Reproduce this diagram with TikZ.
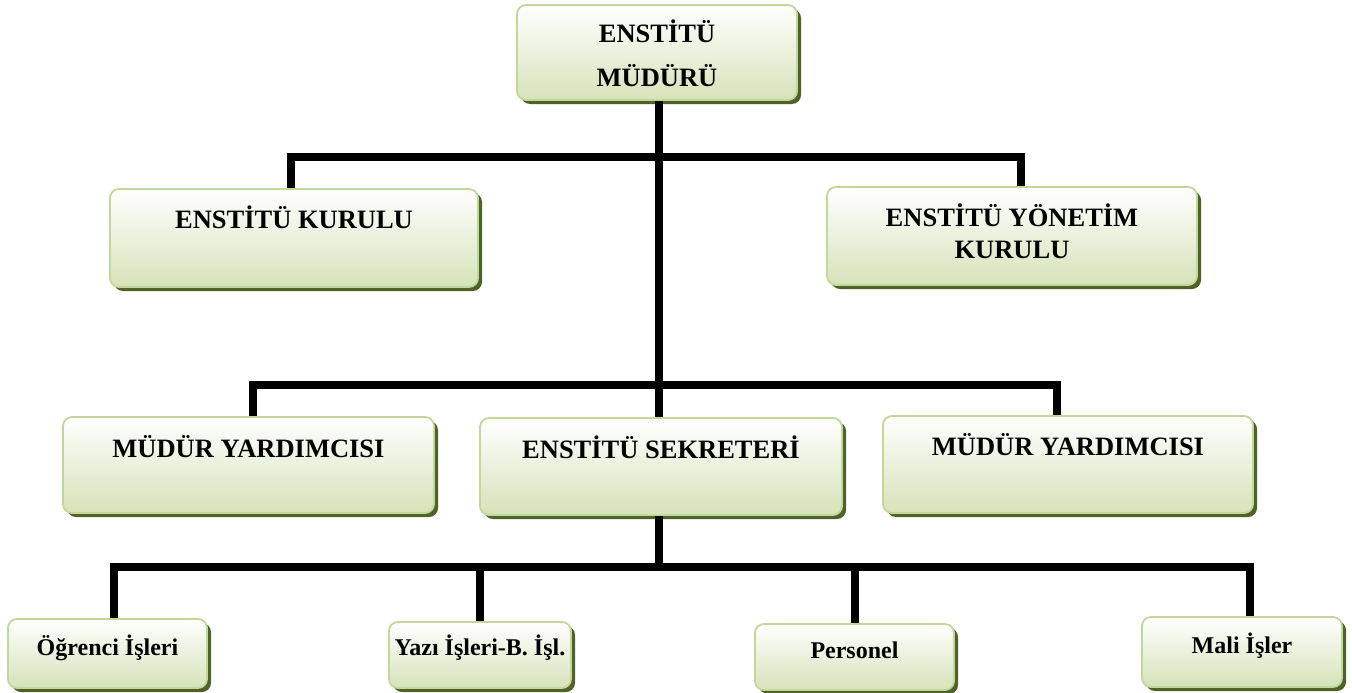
\documentclass[tikz,border=0pt]{standalone}
\usepackage{fontspec}
\setmainfont{Liberation Serif}
\usetikzlibrary{shadows}
\definecolor{boxline}{HTML}{C3D69B}
\definecolor{boxfill}{HTML}{D5E3B9}
\definecolor{shadowc}{HTML}{4F6228}
\tikzset{
  box/.style={draw=boxline, line width=1.8pt, rounded corners=9pt, inner sep=0pt,
    top color=white, bottom color=boxfill,
    drop shadow={shadow xshift=4pt, shadow yshift=-4pt, fill=shadowc, opacity=1}},
  lbl/.style={anchor=base, inner sep=0pt, font=\bfseries\fontsize{26.5}{30}\selectfont},
  slbl/.style={anchor=base, inner sep=0pt, font=\bfseries\fontsize{24}{28}\selectfont},
  conn/.style={line width=8pt, black, line join=miter}
}
\begin{document}
\begin{tikzpicture}[x=1pt,y=-1pt]
\useasboundingbox (0,0) rectangle (1352,693);
% connector junctions
\coordinate (h1) at (659,157);
\coordinate (h1l) at (291,157);
\coordinate (h1r) at (1021,157);
\coordinate (h2l) at (253,385);
\coordinate (h2r) at (1057,385);
\coordinate (h3) at (659,567);
\coordinate (b1) at (114,567);
\coordinate (b2) at (480,567);
\coordinate (b3) at (855,567);
\coordinate (b4) at (1250,567);
% boxes
\node[box, minimum width=280pt, minimum height=95pt] (top) at (657,52.5) {};
\node[box, minimum width=368pt, minimum height=98pt] (kur) at (294,238) {};
\node[box, minimum width=370pt, minimum height=98pt] (yon) at (1012,236) {};
\node[box, minimum width=371pt, minimum height=96pt] (myl) at (248.5,465) {};
\node[box, minimum width=362pt, minimum height=97pt] (sek) at (661,466.5) {};
\node[box, minimum width=370pt, minimum height=97pt] (myr) at (1068,464.5) {};
\node[box, minimum width=199pt, minimum height=69pt] (ogr) at (107.5,653.5) {};
\node[box, minimum width=182pt, minimum height=66pt] (yaz) at (480,655) {};
\node[box, minimum width=199pt, minimum height=66pt] (per) at (854.5,657) {};
\node[box, minimum width=200pt, minimum height=70pt] (mal) at (1242,652) {};
% connectors
\draw[conn] (top.south -| h1) -- (sek.north -| h1);
\draw[conn] (kur.north -| h1l) -- (h1l) -- (h1r) -- (yon.north -| h1r);
\draw[conn] (myl.north -| h2l) -- (h2l) -- (h2r) -- (myr.north -| h2r);
\draw[conn] (sek.south -| h3) -- (h3);
\draw[conn] (ogr.north -| b1) -- (b1) -- (b4) -- (mal.north -| b4);
\draw[conn] (b2) -- (yaz.north -| b2);
\draw[conn] (b3) -- (per.north -| b3);
% labels
\node[lbl] (t1a) at (657,43) {ENSTİTÜ};
\node[lbl] (t1b) at (657,87) {MÜDÜRÜ};
\node[lbl] (t2) at (294,228) {ENSTİTÜ KURULU};
\node[lbl] (t3a) at (1012,226) {ENSTİTÜ YÖNETİM};
\node[lbl] (t3b) at (1012,258) {KURULU};
\node[lbl] (t4) at (248.5,457) {MÜDÜR YARDIMCISI};
\node[lbl] (t5) at (661,458) {ENSTİTÜ SEKRETERİ};
\node[lbl] (t6) at (1068,455) {MÜDÜR YARDIMCISI};
\node[slbl] (t7) at (107.5,655) {Öğrenci İşleri};
\node[slbl] (t8) at (480,655) {Yazı İşleri-B. İşl.};
\node[slbl] (t9) at (854.5,658) {Personel};
\node[slbl] (t10) at (1242,653) {Mali İşler};
\end{tikzpicture}
\end{document}
